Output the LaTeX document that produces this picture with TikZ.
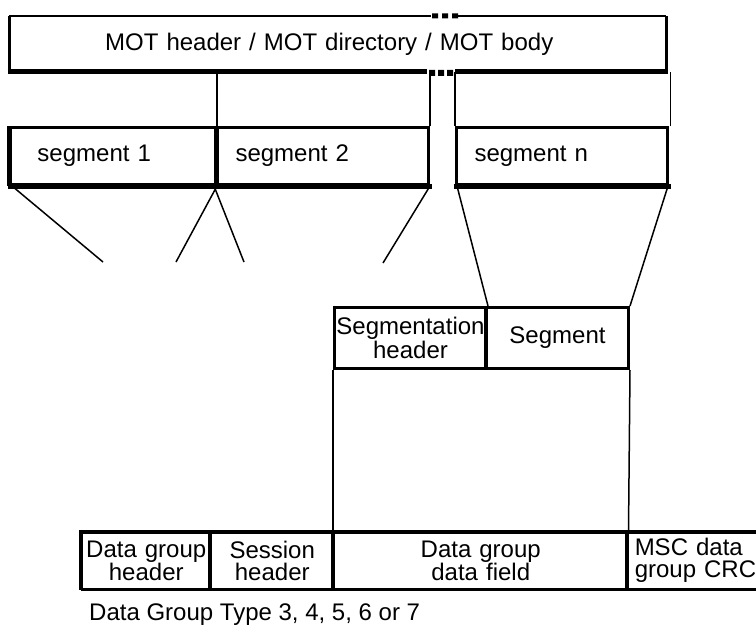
\documentclass[tikz,border=0pt]{standalone}
\usepackage{fontspec}
\setmainfont{Liberation Sans}
\begin{document}
\begin{tikzpicture}[x=1pt,y=-1pt,
  lbl/.style={font=\fontsize{24}{22}\selectfont},
  boxnode/.style={lbl, anchor=north west, inner sep=0pt, align=center},
  hairline/.style={line width=1.5pt},
  midline/.style={line width=3pt},
  heavyline/.style={line width=5pt},
  dotsq/.style={fill=black}
]
\clip (0,0) rectangle (756,626);

% ---- top box ----
\node[boxnode, minimum width=657pt, minimum height=56pt, text width=465pt,
      inner xsep=96pt, align=left] (mot) at (9,16) {MOT header / MOT directory / MOT body};
\draw[line width=2.5pt] (9,16) -- (431,16) (458,16) -- (666,16);
\fill[dotsq] (432,13.5) rectangle (438,18.5) (442,13.5) rectangle (448,18.5) (452,13.5) rectangle (458,18.5);
\draw[midline] (9,16) -- (9,72) (666,16) -- (666,72);
\draw[heavyline] (7.5,72) -- (427,72) (455,72) -- (667.5,72);
\fill[dotsq] (429,70) rectangle (435,76) (438,70) rectangle (444,76) (447,70) rectangle (453,76);

% ---- segments ----
\node[boxnode, minimum width=205pt, minimum height=57pt, text width=151pt,
      inner xsep=27pt, align=left, draw, midline] (s1) at (9,126) {segment 1};
\node[boxnode, minimum width=213pt, minimum height=57pt, text width=173pt,
      inner xsep=20pt, align=left, draw, midline] (s2) at (214,126) {segment 2};
\node[boxnode, minimum width=211pt, minimum height=57pt, text width=175pt,
      inner xsep=18pt, align=left, draw, midline] (sn) at (455,126) {segment n};
\draw[heavyline] (s1.north west) -- (s1.south west);
\draw[line width=4pt] (s1.north east) -- (s1.south east);
\draw[heavyline] ([xshift=-1.5pt]s1.south west) -- ([xshift=1.5pt]s2.south east);
\draw[heavyline] ([xshift=-1.5pt]sn.south west) -- ([xshift=1.5pt]sn.south east);

% verticals between top box and segments
\draw[hairline] (s1.north east) -- (s1.north east |- mot.south);
\draw[hairline] (s2.north east) -- (s2.north east |- mot.south);
\draw[hairline] (sn.north west) -- (sn.north west |- mot.south);
\draw[hairline] ([xshift=1.5pt]sn.north east) -- ([xshift=1.5pt]sn.north east |- mot.south);

% ---- segmentation header / segment ----
\node[boxnode, minimum width=152pt, minimum height=61pt, text width=152pt,
      draw, midline] (sh) at (333,306) {Segmentation\\header};
\node[boxnode, minimum width=142pt, minimum height=61pt, text width=142pt,
      draw, midline] (sg) at (485,306) {Segment};
\draw[midline] (sg.north west) -- (sg.south west);

% fan-out lines
\coordinate (f1) at (103,262);
\coordinate (f2) at (176,262);
\coordinate (f3) at (244,262);
\coordinate (f4) at (383,263);
\draw[hairline] ([xshift=3pt]s1.south west) -- (f1);
\draw[hairline] (s1.south east) -- (f2);
\draw[hairline] (s2.south west) -- (f3);
\draw[hairline] (s2.south east) -- (f4);
\draw[hairline] ([xshift=2pt]sn.south west) -- (sh.north east);
\draw[hairline] ([xshift=-1pt]sn.south east) -- (sg.north east);

% ---- bottom row ----
\node[boxnode, minimum width=129pt, minimum height=56pt, text width=129pt,
      draw, hairline] (dh) at (81,532) {Data group\\header};
\node[boxnode, minimum width=123pt, minimum height=56pt, text width=123pt,
      draw, hairline] (ss) at (210,532) {Session\\header};
\node[boxnode, minimum width=294pt, minimum height=56pt, text width=294pt,
      draw, hairline] (df) at (333,532) {Data group\\data field};
\node[boxnode, minimum width=140pt, minimum height=56pt, text width=126pt,
      inner xsep=7pt, align=left, draw, hairline] (crc) at (627,532) {MSC data\\group CRC};
\draw[line width=4pt] ([xshift=-2pt]dh.north west) -- (crc.north east);
\draw[midline] (dh.south west) -- (crc.south east);
\draw[line width=4pt] (dh.north west) -- (dh.south west);
\draw[line width=4pt] (ss.north west) -- (ss.south west);
\draw[line width=4pt] (df.north west) -- (df.south west);
\draw[line width=4pt] (crc.north west) -- (crc.south west);

% verticals from segmentation boxes to data field
\draw[hairline] (sh.south west) -- (df.north west);
\draw[hairline] (sg.south east) -- (df.north east);

% caption
\node[lbl, anchor=west, inner sep=0pt] (cap) at (89,615) {Data Group Type 3, 4, 5, 6 or 7};
\end{tikzpicture}
\end{document}
